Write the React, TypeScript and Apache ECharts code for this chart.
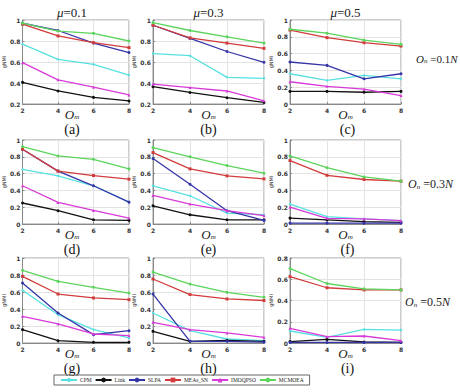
import React, { useEffect, useRef } from "react";
import * as echarts from "echarts";

// Number of overlapping nodes (x axis of every panel)
const OM = [2, 4, 6, 8];

const ALGORITHMS = ["CPM", "Link", "SLPA", "MEAs_SN", "IMOQPSO", "MCMOEA"];
const COLORS = ["#58e0e0", "#111111", "#3535a8", "#d23c3c", "#d83ad8", "#5cd45c"];
const SYMBOLS = ["diamond", "circle", "circle", "rect", "triangle", "circle"];

// gNMI per panel, rows in ALGORITHMS order
const panelA = [
  [0.77, 0.625, 0.578, 0.476],
  [0.406, 0.324, 0.263, 0.229],
  [0.97, 0.9, 0.78, 0.69],
  [0.96, 0.848, 0.784, 0.737],
  [0.594, 0.43, 0.36, 0.286],
  [0.97, 0.895, 0.873, 0.8],
];
const panelB = [
  [0.68, 0.66, 0.454, 0.445],
  [0.365, 0.31, 0.26, 0.215],
  [0.95, 0.825, 0.7, 0.597],
  [0.95, 0.83, 0.78, 0.73],
  [0.39, 0.356, 0.324, 0.23],
  [0.975, 0.9, 0.84, 0.78],
];
const panelC = [
  [0.36, 0.28, 0.34, 0.3],
  [0.15, 0.15, 0.14, 0.15],
  [0.5, 0.46, 0.3, 0.36],
  [0.88, 0.79, 0.73, 0.69],
  [0.265, 0.21, 0.177, 0.1],
  [0.89, 0.843, 0.76, 0.71],
];
const panelD = [
  [0.65, 0.573, 0.455, 0.26],
  [0.25, 0.158, 0.05, 0.043],
  [0.89, 0.63, 0.455, 0.26],
  [0.89, 0.63, 0.577, 0.534],
  [0.455, 0.257, 0.162, 0.07],
  [0.92, 0.81, 0.77, 0.656],
];
const panelE = [
  [0.455, 0.336, 0.13, 0.11],
  [0.217, 0.11, 0.05, 0.05],
  [0.78, 0.474, 0.158, 0.043],
  [0.85, 0.656, 0.573, 0.537],
  [0.34, 0.237, 0.158, 0.1],
  [0.91, 0.8, 0.696, 0.605],
];
const panelF = [
  [0.237, 0.087, 0.06, 0.04],
  [0.07, 0.048, 0.028, 0.02],
  [0.01, 0.01, 0.01, 0.01],
  [0.755, 0.58, 0.53, 0.51],
  [0.2, 0.067, 0.06, 0.04],
  [0.81, 0.67, 0.56, 0.51],
];
const panelG = [
  [0.62, 0.333, 0.157, 0.06],
  [0.157, 0.027, 0.008, 0.008],
  [0.706, 0.353, 0.098, 0.145],
  [0.784, 0.576, 0.53, 0.51],
  [0.314, 0.224, 0.106, 0.086],
  [0.855, 0.725, 0.655, 0.588],
];
const panelH = [
  [0.353, 0.145, 0.047, 0.027],
  [0.137, 0.02, 0.03, 0.02],
  [0.576, 0.02, 0.02, 0.01],
  [0.753, 0.57, 0.518, 0.5],
  [0.243, 0.157, 0.118, 0.067],
  [0.835, 0.694, 0.596, 0.537],
];
const panelI = [
  [0.113, 0.053, 0.128, 0.122],
  [0.013, 0.034, 0.01, 0.006],
  [0.005, 0.005, 0.005, 0.005],
  [0.624, 0.52, 0.5, 0.5],
  [0.138, 0.06, 0.066, 0.022],
  [0.7, 0.56, 0.51, 0.5],
];

const PANELS = [panelA, panelB, panelC, panelD, panelE, panelF, panelG, panelH, panelI];
const PANEL_TAGS = ["(a)", "(b)", "(c)", "(d)", "(e)", "(f)", "(g)", "(h)", "(i)"];
const Y_MIN = [0.2, 0.2, 0, 0, 0, 0, 0, 0, 0];
const Y_MAX = [1, 1, 1, 1, 1, 1, 1, 1, 0.8];
const MU_LABELS = ["0.1", "0.3", "0.5"];
const ON_LABELS = ["0.1", "0.3", "0.5"];

// layout of the 3x3 panel grid
const COL_LEFT = [15, 153, 290];
const COL_WIDTH = [114, 111, 111];
const ROW_TOP = [20, 140, 258];
const ROW_HEIGHT = [84, 84, 85];

const SERIF = "Liberation Serif";

function buildOption() {
  const grid: any[] = [];
  const xAxis: any[] = [];
  const yAxis: any[] = [];
  const series: any[] = [];
  const graphic: any[] = [];

  for (let p = 0; p < 9; p++) {
    const r = Math.floor(p / 3);
    const c = p % 3;
    const cx = COL_LEFT[c] + COL_WIDTH[c] / 2;
    const bottom = ROW_TOP[r] + ROW_HEIGHT[r];
    grid.push({
      left: COL_LEFT[c],
      top: ROW_TOP[r],
      width: COL_WIDTH[c],
      height: ROW_HEIGHT[r],
      show: true,
      borderColor: "#9a9a9a",
      borderWidth: 1,
      containLabel: false,
    });
    xAxis.push({
      type: "value",
      gridIndex: p,
      min: 2,
      max: 8,
      interval: 2,
      axisLine: { show: true, lineStyle: { color: "#888", width: 1 } },
      axisTick: { show: true, inside: true, length: 2, lineStyle: { color: "#888" } },
      axisLabel: {
        fontSize: 6,
        fontWeight: "bold",
        color: "#333",
        margin: 3,
        fontFamily: "DejaVu Sans",
      },
      splitLine: { show: true, lineStyle: { color: "#e3e3e3", width: 1 } },
    });
    yAxis.push({
      type: "value",
      gridIndex: p,
      min: Y_MIN[p],
      max: Y_MAX[p],
      interval: 0.2,
      name: "gNMI",
      nameLocation: "middle",
      nameGap: 11,
      nameTextStyle: { fontSize: 5, color: "#333", fontFamily: "DejaVu Sans" },
      axisLine: { show: true, lineStyle: { color: "#888", width: 1 } },
      axisTick: { show: true, inside: true, length: 2, lineStyle: { color: "#888" } },
      axisLabel: {
        fontSize: 6,
        fontWeight: "bold",
        color: "#333",
        margin: 2,
        fontFamily: "DejaVu Sans",
      },
      splitLine: { show: true, lineStyle: { color: "#e3e3e3", width: 1 } },
    });

    PANELS[p].forEach((vals, a) => {
      series.push({
        type: "line",
        name: ALGORITHMS[a],
        xAxisIndex: p,
        yAxisIndex: p,
        data: OM.map((x, i) => [x, vals[i]]),
        symbol: SYMBOLS[a],
        symbolSize: 3,
        showSymbol: true,
        itemStyle: { color: COLORS[a] },
        lineStyle: { color: COLORS[a], width: 1.3 },
        z: 2 + a,
      });
    });

    // x axis name O_m under each plot
    graphic.push({
      type: "text",
      x: cx,
      y: bottom + 10,
      style: {
        text: "{o|O}{s|m}",
        align: "center",
        verticalAlign: "middle",
        rich: {
          o: { fontFamily: SERIF, fontStyle: "italic", fontSize: 13, fill: "#222", lineHeight: 12 },
          s: {
            fontFamily: SERIF,
            fontStyle: "italic",
            fontSize: 7,
            fill: "#222",
            verticalAlign: "bottom",
            lineHeight: 8,
          },
        },
      },
    });

    // panel tag under each plot
    graphic.push({
      type: "text",
      x: cx + (c === 2 ? 2 : 0),
      y: bottom + 25,
      style: {
        text: PANEL_TAGS[p],
        fontFamily: SERIF,
        fontSize: 14,
        lineHeight: 14,
        fill: "#111",
        align: "center",
        verticalAlign: "middle",
      },
    });
  }

  // column titles
  MU_LABELS.forEach((m, c) => {
    graphic.push({
      type: "text",
      x: COL_LEFT[c] + COL_WIDTH[c] / 2,
      y: 12,
      style: {
        text: "{i|\u03bc}{n|=" + m + "}",
        align: "center",
        verticalAlign: "middle",
        rich: {
          i: { fontFamily: SERIF, fontStyle: "italic", fontSize: 13, fill: "#222" },
          n: { fontFamily: SERIF, fontSize: 13, fill: "#222" },
        },
      },
    });
  });

  // row labels on the right
  const rowLabelX = [416, 408, 405];
  const rowLabelY = [59, 184, 302];
  const rowLabelSize = [11, 12, 12];
  ON_LABELS.forEach((o, r) => {
    const fs = rowLabelSize[r];
    graphic.push({
      type: "text",
      x: rowLabelX[r],
      y: rowLabelY[r],
      style: {
        text: "{o|O}{s|n}{t| =" + o + "}{o|N}",
        align: "left",
        verticalAlign: "middle",
        rich: {
          o: { fontFamily: SERIF, fontStyle: "italic", fontSize: fs, fill: "#222" },
          s: {
            fontFamily: SERIF,
            fontStyle: "italic",
            fontSize: 7,
            fill: "#222",
            verticalAlign: "bottom",
          },
          t: { fontFamily: SERIF, fontSize: fs, fill: "#222" },
        },
      },
    });
  });

  return {
    animation: false,
    backgroundColor: "#ffffff",
    grid,
    xAxis,
    yAxis,
    series,
    graphic,
    legend: {
      data: ALGORITHMS,
      left: 54,
      top: 375,
      orient: "horizontal",
      itemWidth: 16,
      itemHeight: 6,
      itemGap: 3,
      padding: [2, 6, 2, 6],
      borderColor: "#666",
      borderWidth: 1,
      textStyle: { fontSize: 5.5, fontFamily: SERIF, color: "#222", padding: [0, 0, 0, -2] },
    },
  };
}

export default function App() {
  const ref = useRef<HTMLDivElement>(null);

  useEffect(() => {
    if (!ref.current) return;
    const chart = echarts.init(ref.current, undefined, { renderer: "svg" });
    chart.setOption(buildOption() as any);
    return () => chart.dispose();
  }, []);

  return (
    <div
      ref={ref}
      style={{ position: "absolute", left: 0, top: 0, width: 460, height: 392, background: "#fff" }}
    />
  );
}
